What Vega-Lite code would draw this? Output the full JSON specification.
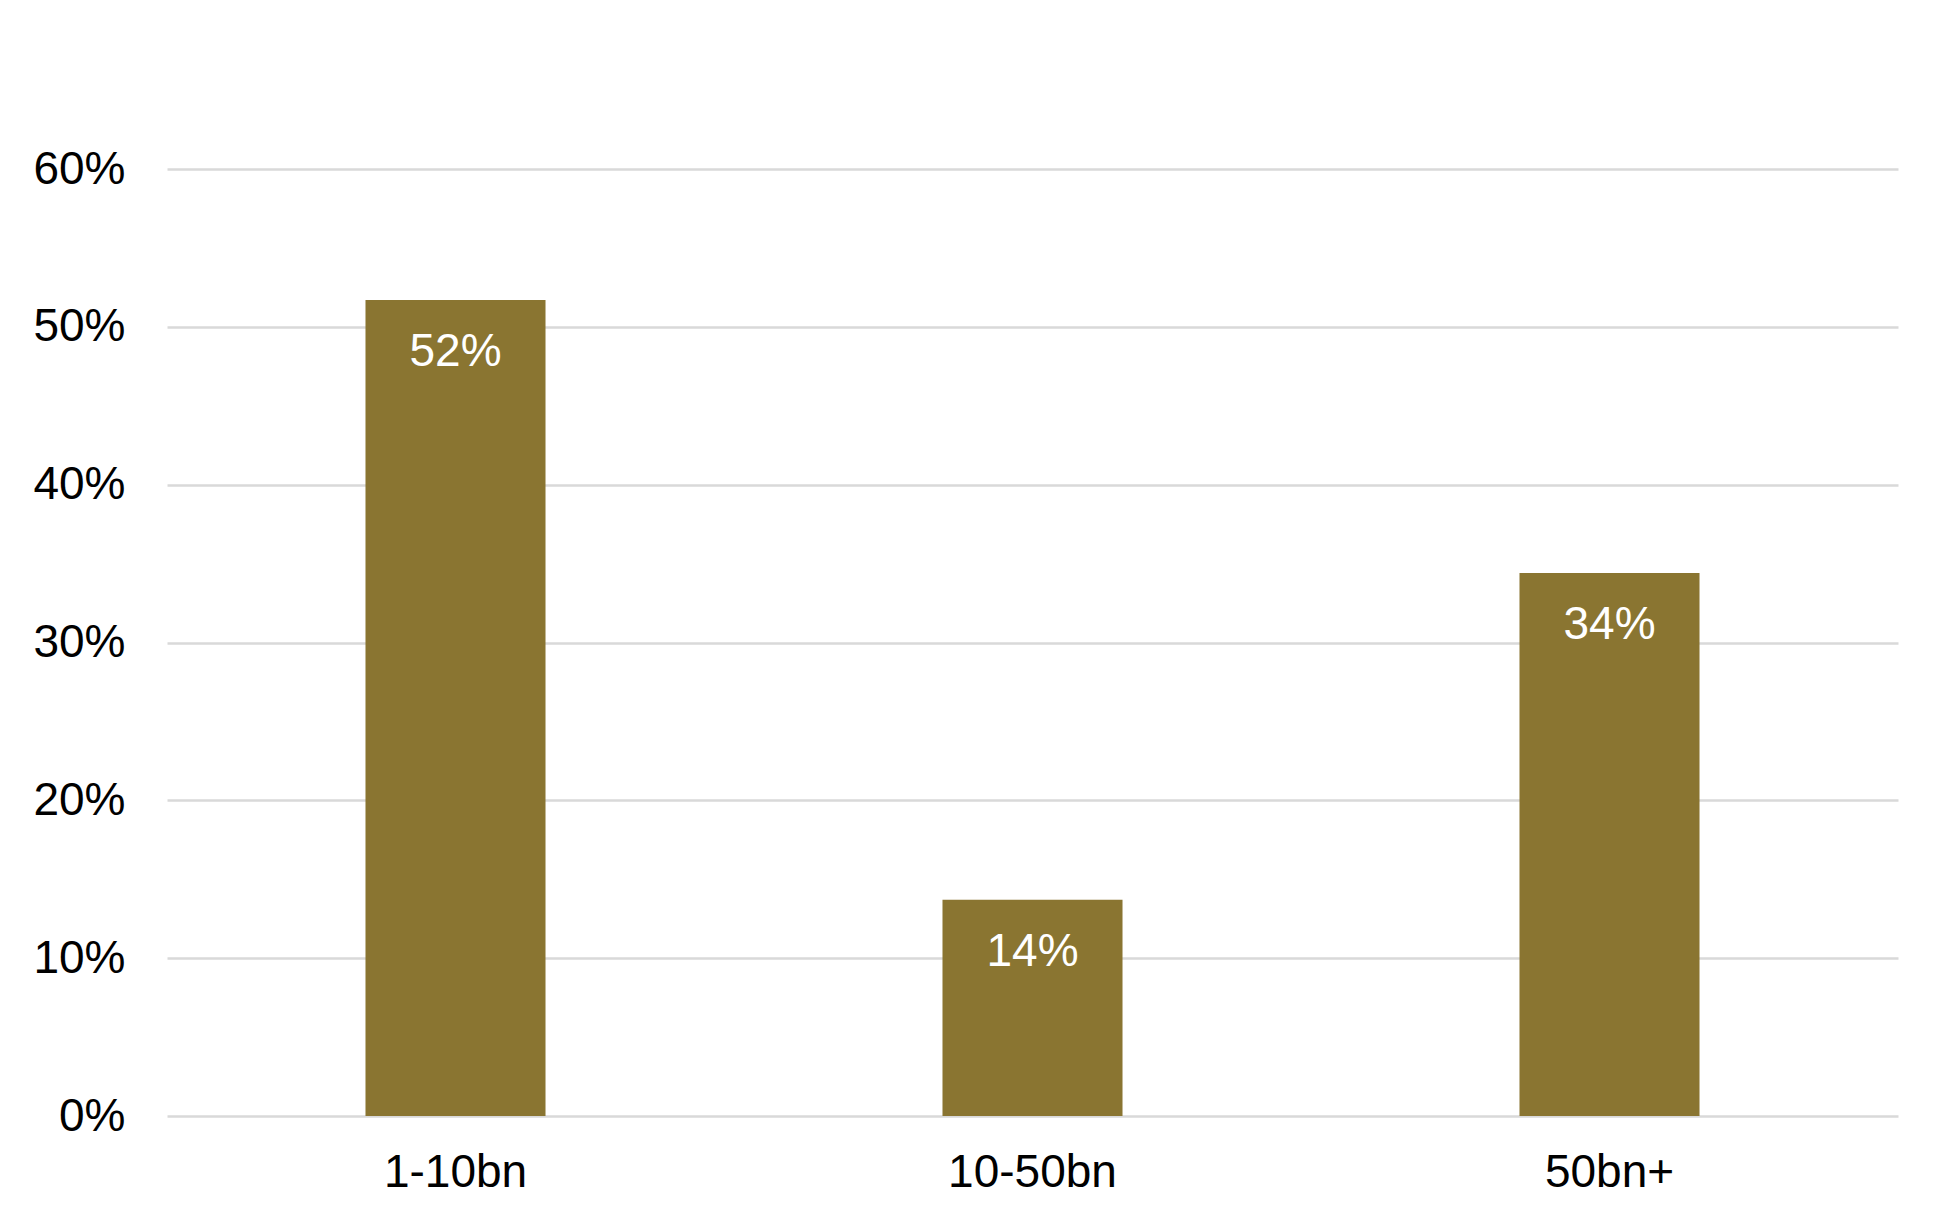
{
  "$schema": "https://vega.github.io/schema/vega-lite/v6.json",
  "width": 1731,
  "height": 947,
  "autosize": {"type": "none"},
  "padding": {"left": 167, "top": 169, "right": 50, "bottom": 113},
  "background": "white",
  "config": {
    "view": {"stroke": null},
    "font": "Liberation Sans"
  },
  "data": {
    "values": [
      {"size": "1-10bn", "share": 0.517},
      {"size": "10-50bn", "share": 0.137},
      {"size": "50bn+", "share": 0.344}
    ]
  },
  "encoding": {
    "x": {
      "field": "size",
      "type": "nominal",
      "sort": null,
      "scale": {"paddingInner": 0.688, "paddingOuter": 0.344},
      "axis": {
        "title": null,
        "labelAngle": 0,
        "labelFontSize": 46,
        "labelColor": "#000000",
        "labelPadding": 34,
        "ticks": false,
        "domain": false
      }
    },
    "y": {
      "field": "share",
      "type": "quantitative",
      "scale": {"domain": [0, 0.6]},
      "axis": {
        "title": null,
        "format": ".0%",
        "values": [0, 0.1, 0.2, 0.3, 0.4, 0.5, 0.6],
        "labelFontSize": 46,
        "labelColor": "#000000",
        "labelPadding": 42,
        "ticks": false,
        "domain": false,
        "gridColor": "#D9D9D9",
        "gridWidth": 2.5
      }
    }
  },
  "layer": [
    {"mark": {"type": "bar", "color": "#8A7531"}},
    {
      "mark": {
        "type": "text",
        "color": "white",
        "fontSize": 46,
        "baseline": "top",
        "dy": 30
      },
      "encoding": {
        "text": {"field": "share", "type": "quantitative", "format": ".0%"}
      }
    }
  ]
}
